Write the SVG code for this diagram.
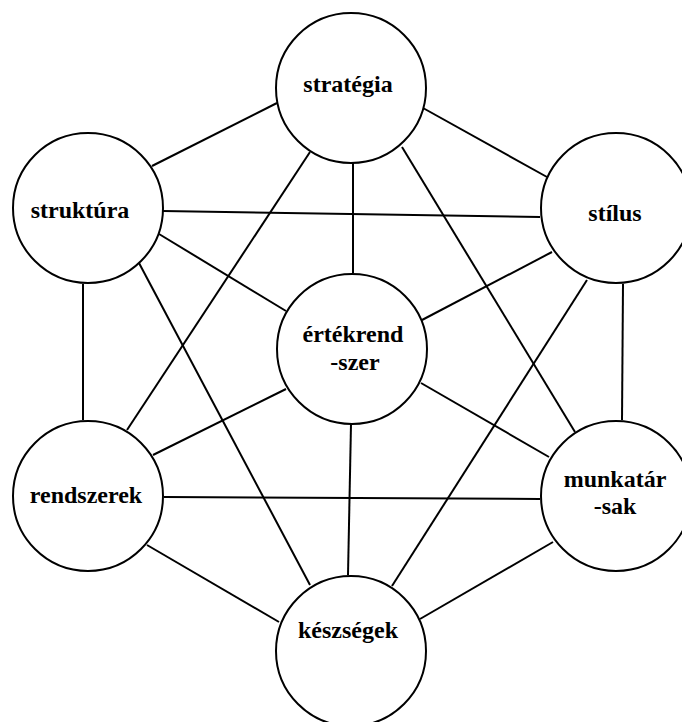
<svg xmlns="http://www.w3.org/2000/svg" width="682" height="722" viewBox="0 0 682 722">
  <style>
    .edge { stroke: #000; stroke-width: 2; fill: none; }
    .node circle { fill: #fff; stroke: #000; stroke-width: 2; }
    .node text { font-family: "Liberation Serif", "Times New Roman", serif; font-weight: bold; font-size: 24px; fill: #000; text-anchor: middle; }
  </style>
  <rect width="682" height="722" fill="#fff"/>

  <g id="connectors">
    <line class="edge" x1="152" y1="166" x2="277" y2="103"/>
    <line class="edge" x1="423" y1="108" x2="547" y2="177"/>
    <line class="edge" x1="353" y1="163" x2="353" y2="273"/>
    <line class="edge" x1="310" y1="152" x2="127" y2="430"/>
    <line class="edge" x1="402" y1="147" x2="575" y2="432"/>
    <line class="edge" x1="163" y1="211" x2="540" y2="217"/>
    <line class="edge" x1="159" y1="234" x2="286" y2="311"/>
    <line class="edge" x1="83" y1="284" x2="83" y2="420"/>
    <line class="edge" x1="139" y1="263" x2="310" y2="585"/>
    <line class="edge" x1="552" y1="252" x2="422" y2="320"/>
    <line class="edge" x1="587" y1="280" x2="392" y2="586"/>
    <line class="edge" x1="623" y1="284" x2="622" y2="420"/>
    <line class="edge" x1="286" y1="389" x2="153" y2="455"/>
    <line class="edge" x1="421" y1="383" x2="549" y2="457"/>
    <line class="edge" x1="351" y1="424" x2="348" y2="575"/>
    <line class="edge" x1="164" y1="497" x2="540" y2="499"/>
    <line class="edge" x1="147" y1="545" x2="279" y2="622"/>
    <line class="edge" x1="553" y1="542" x2="420" y2="619"/>
  </g>

  <g id="strategia" class="node">
    <circle cx="351" cy="88" r="75"/>
    <text x="348" y="92">stratégia</text>
  </g>
  <g id="struktura" class="node">
    <circle cx="88" cy="208" r="75"/>
    <text x="80" y="218">struktúra</text>
  </g>
  <g id="stilus" class="node">
    <circle cx="616" cy="208" r="75"/>
    <text x="615" y="221">stílus</text>
  </g>
  <g id="ertekrendszer" class="node">
    <circle cx="352" cy="349" r="75"/>
    <text x="353" y="342">értékrend</text>
    <text x="355" y="370">-szer</text>
  </g>
  <g id="rendszerek" class="node">
    <circle cx="88" cy="496" r="75"/>
    <text x="86" y="503">rendszerek</text>
  </g>
  <g id="munkatarsak" class="node">
    <circle cx="616" cy="496" r="75"/>
    <text x="615" y="487">munkatár</text>
    <text x="615" y="514">-sak</text>
  </g>
  <g id="keszsegek" class="node">
    <circle cx="351" cy="651" r="75"/>
    <text x="348" y="638">készségek</text>
  </g>
</svg>
